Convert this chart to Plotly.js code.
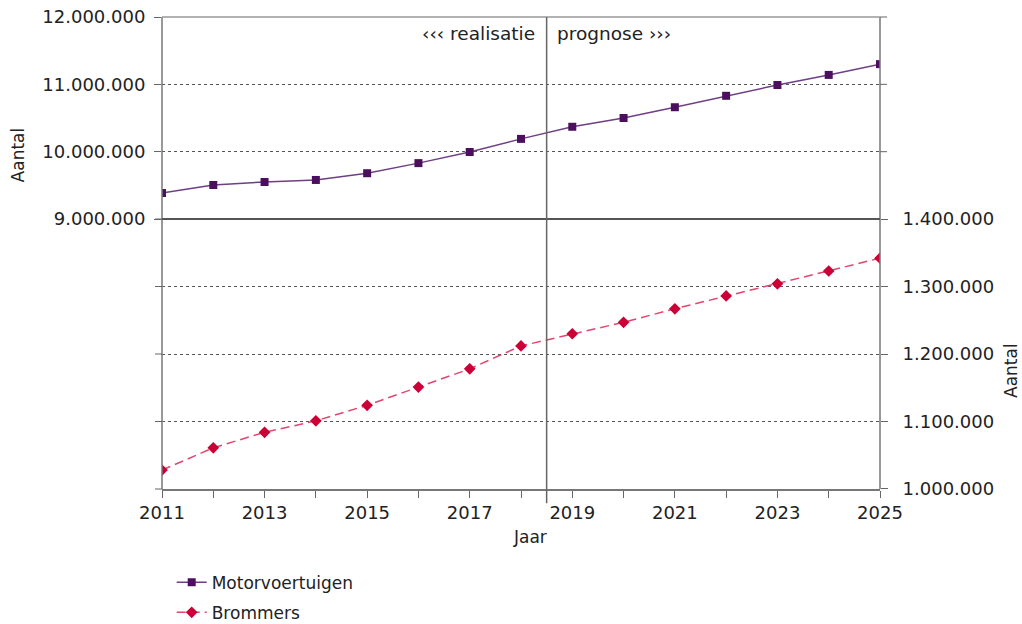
<!DOCTYPE html>
<html>
<head>
<meta charset="utf-8">
<script src="https://cdn.plot.ly/plotly-3.0.1.min.js"></script>
<style>html,body{margin:0;padding:0;background:#fff;}#chart{width:1022px;height:624px;}</style>
</head>
<body>
<div id="chart"></div>
<script>
const years = [2011,2012,2013,2014,2015,2016,2017,2018,2019,2020,2021,2022,2023,2024,2025];
const motorvoertuigen = [9386000,9505000,9550000,9580000,9680000,9830000,9995000,10190000,10370000,10500000,10660000,10830000,10990000,11140000,11300000];
const brommers = [1028000,1061000,1084000,1101000,1124000,1151000,1178000,1212000,1230000,1247000,1267000,1286000,1304000,1323000,1342000];
const splitYear = 2018.5;
const xTickLabels = ['2011','','2013','','2015','','2017','','2019','','2021','','2023','','2025'];
const topTicks = [9000000,10000000,11000000,12000000];
const bottomTicks = [1000000,1100000,1200000,1300000,1400000];

const FONT = 'DejaVu Sans, Verdana, sans-serif';
const TXT = '#222';
const split = 0.572;

const traces = [
  {x: years, y: motorvoertuigen, name: 'Motorvoertuigen', type: 'scatter', mode: 'lines+markers', legendgroup: 'a',
   yaxis: 'y', line: {color: '#6e3f85', width: 1.5}, marker: {symbol: 'square', size: 8, color: '#4b0f5e'}},
  {x: years, y: brommers, name: 'Brommers', type: 'scatter', mode: 'lines+markers', legendgroup: 'b',
   yaxis: 'y2', line: {color: '#e0466f', width: 1.5, dash: '9px,5px'}, marker: {symbol: 'diamond', size: 9, color: '#cc0036'}}
];

const tickLine = (x0, x1, y) => ({type: 'line', xref: 'paper', yref: 'paper', x0: x0, x1: x1, y0: y, y1: y, line: {color: '#666', width: 1}});
const tl = 7 / 718;

const layout = {
  width: 1022, height: 624,
  margin: {l: 162, r: 142, t: 17, b: 135, autoexpand: false},
  paper_bgcolor: '#fff', plot_bgcolor: '#fff',
  separators: ',.',
  font: {family: FONT, size: 17, color: TXT},
  showlegend: true,
  legend: {xref: 'container', yref: 'container', x: 0.168, y: 0.095, xanchor: 'left', yanchor: 'top', orientation: 'v',
           traceorder: 'grouped', font: {family: FONT, size: 17, color: TXT}, tracegroupgap: 5, bgcolor: 'rgba(0,0,0,0)'},
  xaxis: {anchor: 'y2', range: [2011, 2025], tickvals: years, ticktext: xTickLabels, ticks: 'outside', ticklen: 7,
          tickcolor: '#666', showgrid: false, zeroline: false, showline: true, linecolor: '#777', linewidth: 1.5,
          tickfont: {size: 18, color: TXT}, automargin: false},
  yaxis: {domain: [split, 1], range: [9000000, 12000000], tickvals: topTicks, tickformat: ',d', ticks: 'outside',
          ticklen: 7, tickcolor: '#666', showgrid: true, gridcolor: '#555', griddash: 'dot', gridwidth: 1,
          zeroline: false, showline: false, tickfont: {size: 18, color: TXT}, automargin: false, ticklabelstandoff: 5},
  yaxis2: {domain: [0, split], range: [1000000, 1400000], tickvals: bottomTicks, tickformat: ',d', side: 'right',
           anchor: 'x', ticks: 'outside', ticklen: 7, tickcolor: '#666', showgrid: true, gridcolor: '#555',
           griddash: 'dot', gridwidth: 1, zeroline: false, showline: false, tickfont: {size: 18, color: TXT},
           automargin: false, ticklabelstandoff: 11},
  shapes: [
    {type: 'line', xref: 'paper', yref: 'paper', x0: 0, x1: 0, y0: 0, y1: 1, line: {color: '#777', width: 1.5}},
    {type: 'line', xref: 'paper', yref: 'paper', x0: 1, x1: 1, y0: 0, y1: 1, line: {color: '#777', width: 1.5}},
    {type: 'line', xref: 'paper', yref: 'paper', x0: 0, x1: 1, y0: 1, y1: 1, line: {color: '#999', width: 1.5}},
    {type: 'line', xref: 'paper', yref: 'paper', x0: 0, x1: 1, y0: split, y1: split, line: {color: '#555', width: 2}},
    tickLine(-tl, 0, split),
    tickLine(-tl, 0, split * 0.25),
    tickLine(-tl, 0, split * 0.5),
    tickLine(-tl, 0, split * 0.75),
    tickLine(-tl, 0, 0),
    tickLine(1, 1 + tl, split + (1 - split) / 3),
    tickLine(1, 1 + tl, split + 2 * (1 - split) / 3),
    tickLine(1, 1 + tl, 1),
    {type: 'line', xref: 'x', yref: 'paper', x0: splitYear, x1: splitYear, y0: -0.03, y1: 1, line: {color: '#666', width: 1.5}}
  ],
  annotations: [
    {xref: 'x', yref: 'paper', x: splitYear, y: 0.965, xanchor: 'right', yanchor: 'middle', xshift: -10,
     text: '‹‹‹ realisatie', showarrow: false, font: {size: 18.5, color: TXT}},
    {xref: 'x', yref: 'paper', x: splitYear, y: 0.965, xanchor: 'left', yanchor: 'middle', xshift: 8,
     text: 'prognose ›››', showarrow: false, font: {size: 18.5, color: TXT}},
    {xref: 'paper', yref: 'paper', x: -0.2, y: (489 - 155) / 472, xanchor: 'center', yanchor: 'middle', textangle: -90,
     text: 'Aantal', showarrow: false, font: {size: 17, color: TXT}},
    {xref: 'paper', yref: 'paper', x: 1 + 131 / 718, y: (489 - 370) / 472, xanchor: 'center', yanchor: 'middle', textangle: -90,
     text: 'Aantal', showarrow: false, font: {size: 17, color: TXT}},
    {xref: 'paper', yref: 'paper', x: (530 - 162) / 718, y: -(537 - 489) / 472, xanchor: 'center', yanchor: 'middle',
     text: 'Jaar', showarrow: false, font: {size: 17, color: TXT}}
  ]
};

Plotly.newPlot('chart', traces, layout, {displayModeBar: false, staticPlot: true});
</script>
</body>
</html>
